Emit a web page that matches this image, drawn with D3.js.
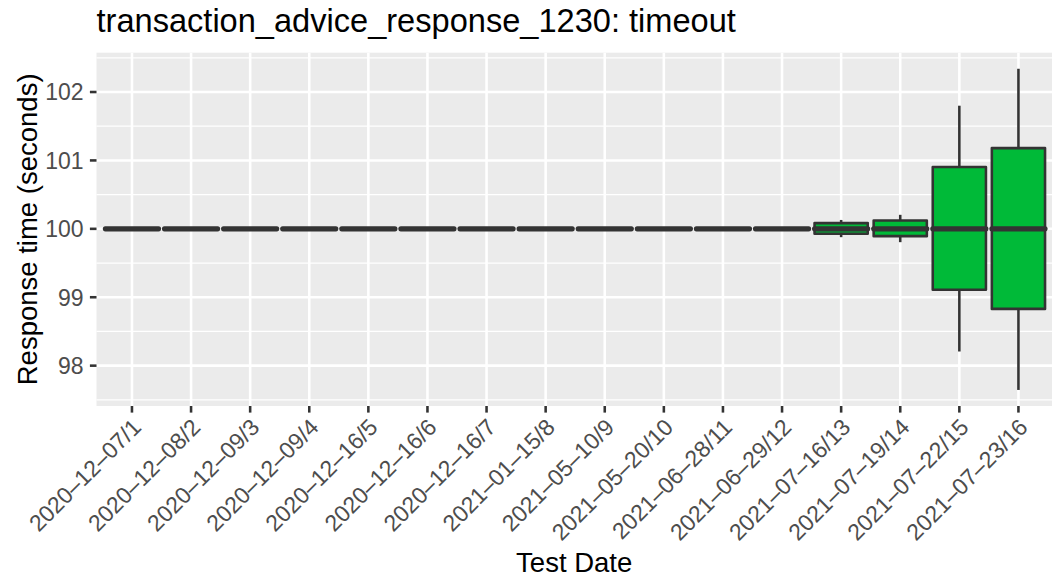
<!DOCTYPE html>
<html>
<head>
<meta charset="utf-8">
<script src="https://cdn.jsdelivr.net/npm/d3@7"></script>
<style>
  html, body { margin: 0; padding: 0; background: #fff; }
  svg text { font-family: "Liberation Sans", Arial, Helvetica, sans-serif; }
</style>
</head>
<body>
<svg id="chart" width="1052" height="577"></svg>
<script>
// test dates (x categories)
const dates = [
  "2020-12-07/1", "2020-12-08/2", "2020-12-09/3", "2020-12-09/4",
  "2020-12-16/5", "2020-12-16/6", "2020-12-16/7", "2021-01-15/8",
  "2021-05-10/9", "2021-05-20/10", "2021-06-28/11", "2021-06-29/12",
  "2021-07-16/13", "2021-07-19/14", "2021-07-22/15", "2021-07-23/16"
];
// box stats (seconds)
const whiskerLow = [100,100,100,100,100,100,100,100,100,100,100,100, 99.878, 99.805, 98.207, 97.645];
const q1         = [100,100,100,100,100,100,100,100,100,100,100,100, 99.927, 99.893, 99.11, 98.83];
const median     = [100,100,100,100,100,100,100,100,100,100,100,100, 100, 100, 100, 100];
const q3         = [100,100,100,100,100,100,100,100,100,100,100,100, 100.084, 100.122, 100.905, 101.18];
const whiskerHigh= [100,100,100,100,100,100,100,100,100,100,100,100, 100.13, 100.205, 101.8, 102.34];
const yTicks = [98, 99, 100, 101, 102];

const title = "transaction_advice_response_1230: timeout";
const xTitle = "Test Date";
const yTitle = "Response time (seconds)";

const boxes = dates.map((d, i) => ({
  date: d, lo: whiskerLow[i], q1: q1[i], med: median[i], q3: q3[i], hi: whiskerHigh[i]
}));

const svg = d3.select("#chart");
const panel = { left: 96.5, top: 52.7, right: 1053.9, bottom: 406 };
const lw = 2.57; // ggplot 0.5 linewidth at this dpi

const x = d3.scalePoint()
  .domain(dates)
  .range([panel.left, panel.right])
  .padding(0.6);

const lo = d3.min(whiskerLow), hi = d3.max(whiskerHigh);
const pad = (hi - lo) * 0.05;
const y = d3.scaleLinear()
  .domain([lo - pad, hi + pad])
  .range([panel.bottom, panel.top]);

// panel background
svg.append("rect")
  .attr("x", panel.left).attr("y", panel.top)
  .attr("width", panel.right - panel.left)
  .attr("height", panel.bottom - panel.top)
  .attr("fill", "#EBEBEB");

// minor y grid
const minor = d3.range(97.5, 103, 1).filter(v => v >= y.domain()[0] && v <= y.domain()[1]);
svg.append("g").selectAll("line").data(minor).enter().append("line")
  .attr("x1", panel.left).attr("x2", panel.right)
  .attr("y1", d => y(d)).attr("y2", d => y(d))
  .attr("stroke", "#fff").attr("stroke-width", lw / 2);

// major grid
svg.append("g").selectAll("line").data(yTicks).enter().append("line")
  .attr("x1", panel.left).attr("x2", panel.right)
  .attr("y1", d => y(d)).attr("y2", d => y(d))
  .attr("stroke", "#fff").attr("stroke-width", lw);
svg.append("g").selectAll("line").data(dates).enter().append("line")
  .attr("x1", d => x(d)).attr("x2", d => x(d))
  .attr("y1", panel.top).attr("y2", panel.bottom)
  .attr("stroke", "#fff").attr("stroke-width", lw);

// boxplots
const bw = x.step() * 0.9;
const g = svg.append("g").selectAll("g").data(boxes).enter().append("g");

g.append("line") // whisker up
  .attr("x1", d => x(d.date)).attr("x2", d => x(d.date))
  .attr("y1", d => y(d.q3)).attr("y2", d => y(d.hi))
  .attr("stroke", "#333333").attr("stroke-width", lw);
g.append("line") // whisker down
  .attr("x1", d => x(d.date)).attr("x2", d => x(d.date))
  .attr("y1", d => y(d.q1)).attr("y2", d => y(d.lo))
  .attr("stroke", "#333333").attr("stroke-width", lw);
g.append("rect")
  .attr("x", d => x(d.date) - bw / 2)
  .attr("y", d => y(d.q3))
  .attr("width", bw)
  .attr("height", d => y(d.q1) - y(d.q3))
  .attr("fill", "#00BA38")
  .attr("stroke", "#333333").attr("stroke-width", lw)
  .attr("stroke-linejoin", "round");
g.append("line") // median
  .attr("x1", d => x(d.date) - bw / 2).attr("x2", d => x(d.date) + bw / 2)
  .attr("y1", d => y(d.med)).attr("y2", d => y(d.med))
  .attr("stroke", "#333333").attr("stroke-width", lw * 2)
  .attr("stroke-linecap", "round");

// y axis ticks + labels
const ya = svg.append("g");
ya.selectAll("line").data(yTicks).enter().append("line")
  .attr("x1", panel.left - 6.6).attr("x2", panel.left)
  .attr("y1", d => y(d)).attr("y2", d => y(d))
  .attr("stroke", "#333333").attr("stroke-width", lw);
ya.selectAll("text").data(yTicks).enter().append("text")
  .attr("x", 83.5).attr("y", d => y(d))
  .attr("dy", "0.36em")
  .attr("text-anchor", "end")
  .attr("font-size", 23)
  .attr("fill", "#4D4D4D")
  .text(d => d);

// x axis ticks + labels
const xa = svg.append("g");
xa.selectAll("line").data(dates).enter().append("line")
  .attr("x1", d => x(d)).attr("x2", d => x(d))
  .attr("y1", panel.bottom).attr("y2", panel.bottom + 6.6)
  .attr("stroke", "#333333").attr("stroke-width", lw);
xa.selectAll("text").data(dates).enter().append("text")
  .attr("transform", d => `translate(${x(d) - 1},${panel.bottom + 11})rotate(-45)`)
  .attr("dy", "0.72em")
  .attr("text-anchor", "end")
  .attr("font-size", 23)
  .attr("fill", "#4D4D4D")
  .text(d => d.replace(/-/g, "\u2013"));

// titles
svg.append("text")
  .attr("x", panel.left).attr("y", 32)
  .attr("font-size", 32.6)
  .attr("fill", "#000")
  .text(title);
svg.append("text")
  .attr("x", (panel.left + panel.right) / 2 - 1).attr("y", 572)
  .attr("text-anchor", "middle")
  .attr("font-size", 27.5)
  .attr("fill", "#000")
  .text(xTitle);
svg.append("text")
  .attr("transform", `translate(36.7,${(panel.top + panel.bottom) / 2})rotate(-90)`)
  .attr("text-anchor", "middle")
  .attr("font-size", 27.5)
  .attr("fill", "#000")
  .text(yTitle);
</script>
</body>
</html>
